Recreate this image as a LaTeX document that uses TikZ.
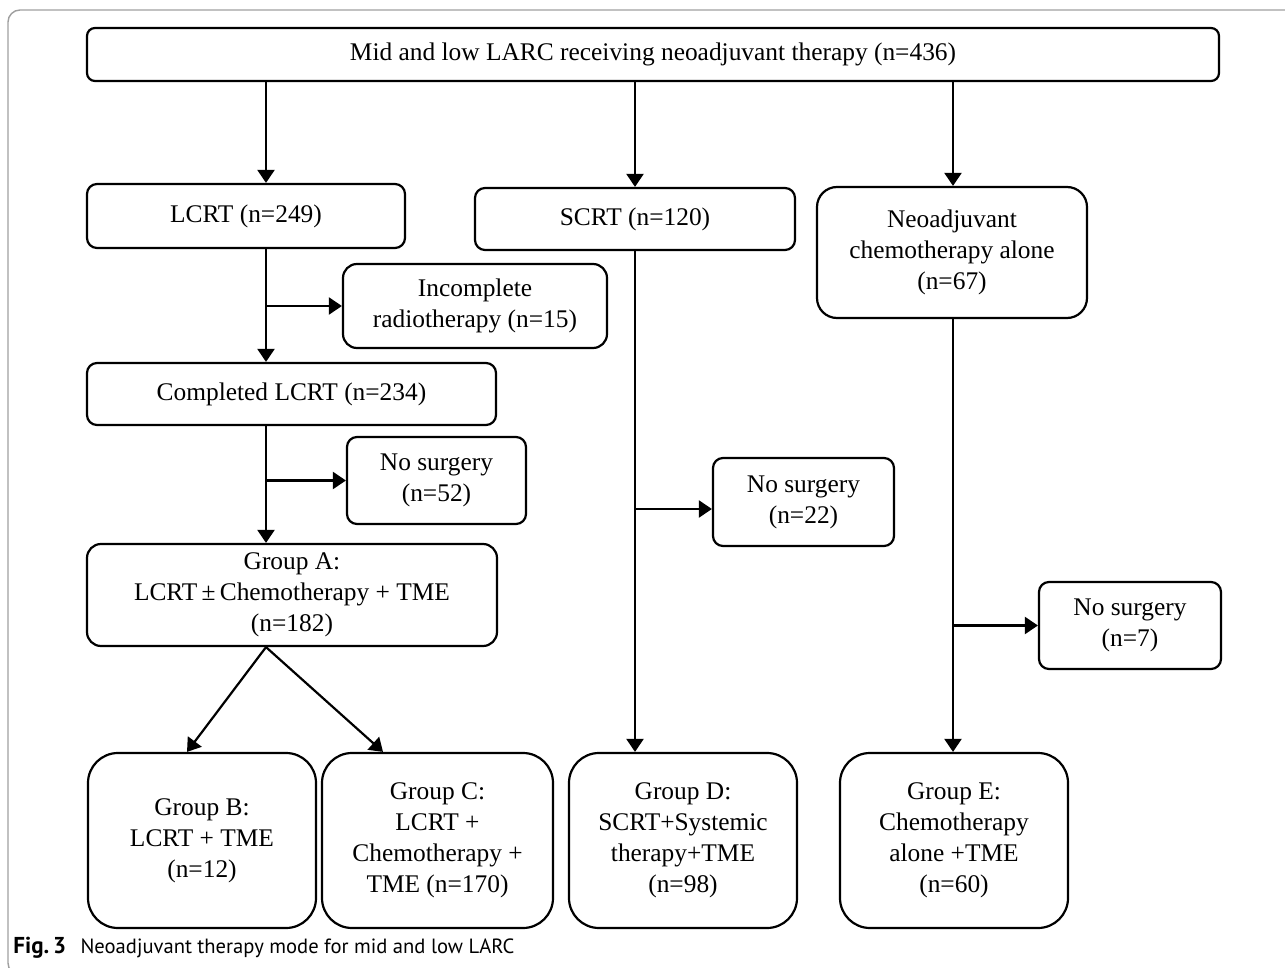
\documentclass[tikz,border=0pt]{standalone}
\usepackage{fontspec}
\setmainfont{Liberation Serif}
\newfontfamily\capfont{PT Sans}
\usetikzlibrary{arrows.meta}

\begin{document}
\begin{tikzpicture}[
  x=0.5pt, y=-0.5pt,
  >={Triangle[length=6.5pt,width=8.5pt]},
  box/.style={draw, line width=1.1pt, rounded corners=5pt, align=center,
    inner sep=0pt, font=\fontsize{12.7}{15.5}\selectfont},
  grp/.style={box, rounded corners=15pt, minimum width=114pt, minimum height=87.5pt},
  link/.style={->, line width=1.1pt}
]
  \useasboundingbox (0,0) rectangle (1285,968);
  \draw[gray!75, line width=0.7pt, rounded corners=6pt] (1300,10) -- (8,10) -- (8,975) -- (60,975);

  \node[box, rounded corners=4pt, minimum width=566pt, minimum height=26.5pt] (top) at (653,54.5)
    {Mid and low LARC receiving neoadjuvant therapy (n=436)};
  \node[box, minimum width=159pt, minimum height=32pt] (lcrt) at (246,216) {LCRT (n=249)};
  \node[box, minimum width=160pt, minimum height=31pt] (scrt) at (635,219) {SCRT (n=120)};
  \node[box, rounded corners=10pt, minimum width=135pt, minimum height=65.5pt] (nac) at (952,252.5)
    {Neoadjuvant\\chemotherapy alone\\(n=67)};
  \node[box, rounded corners=7pt, minimum width=132pt, minimum height=42pt] (incomp) at (475,306)
    {Incomplete\\radiotherapy (n=15)};
  \node[box, minimum width=204.5pt, minimum height=31pt] (compl) at (291.5,394) {Completed LCRT (n=234)};
  \node[box, minimum width=89.5pt, minimum height=43.5pt] (nosA) at (436.5,480.5) {No surgery\\(n=52)};
  \node[box, minimum width=90.5pt, minimum height=44pt] (nosD) at (803.5,502) {No surgery\\(n=22)};
  \node[box, minimum width=91pt, minimum height=43.5pt] (nosE) at (1130,625.5) {No surgery\\(n=7)};
  \node[box, rounded corners=7pt, minimum width=205pt, minimum height=51pt] (grpA) at (292,595)
    {Group A:\\LCRT\,±\,Chemotherapy + TME\\(n=182)};
  \node[grp] (grpB) at (202,840.5) {Group B:\\LCRT + TME\\(n=12)};
  \node[grp, minimum width=115.5pt] (grpC) at (437.5,840.5) {Group C:\\LCRT +\\Chemotherapy +\\TME (n=170)};
  \node[grp] (grpD) at (683,840.5) {Group D:\\SCRT+Systemic\\therapy+TME\\(n=98)};
  \node[grp] (grpE) at (954,840.5) {Group E:\\Chemotherapy\\alone +TME\\(n=60)};

  \coordinate (lx) at (266,0);
  \coordinate (bx) at (187,0);
  \coordinate (cx) at (383,0);
  \coordinate (ex) at (953,0);
  \coordinate (dy) at (0,509);

  \draw[link] (top.south -| lx) -- (lcrt.north -| lx);
  \draw[link] (top.south -| scrt) -- (scrt.north);
  \draw[link] (top.south -| ex) -- (nac.north -| ex);
  \draw[link] (lcrt.south -| lx) -- (compl.north -| lx);
  \draw[link] (compl.south -| lx) -- (grpA.north -| lx);
  \draw[link] (scrt.south) -- (grpD.north -| scrt);
  \draw[link] (nac.south -| ex) -- (grpE.north -| ex);
  \foreach \f/\t in {lx/incomp,lx/nosA,ex/nosE}
    \draw[link] (\t.west -| \f) -- (\t.west);
  \draw[link] (scrt |- dy) -- (nosD.west |- dy);
  \draw[link] (grpA.south -| lx) -- (grpB.north -| bx);
  \draw[link] (grpA.south -| lx) -- (grpC.north -| cx);

  \node[anchor=west, inner sep=0pt, font=\capfont\fontsize{10.3}{12}\selectfont] (cap) at (13,948)
    {\textbf{\fontsize{11.5}{12}\selectfont Fig.\,3}\hspace{0.7em}Neoadjuvant therapy mode for mid and low LARC};
\end{tikzpicture}
\end{document}
